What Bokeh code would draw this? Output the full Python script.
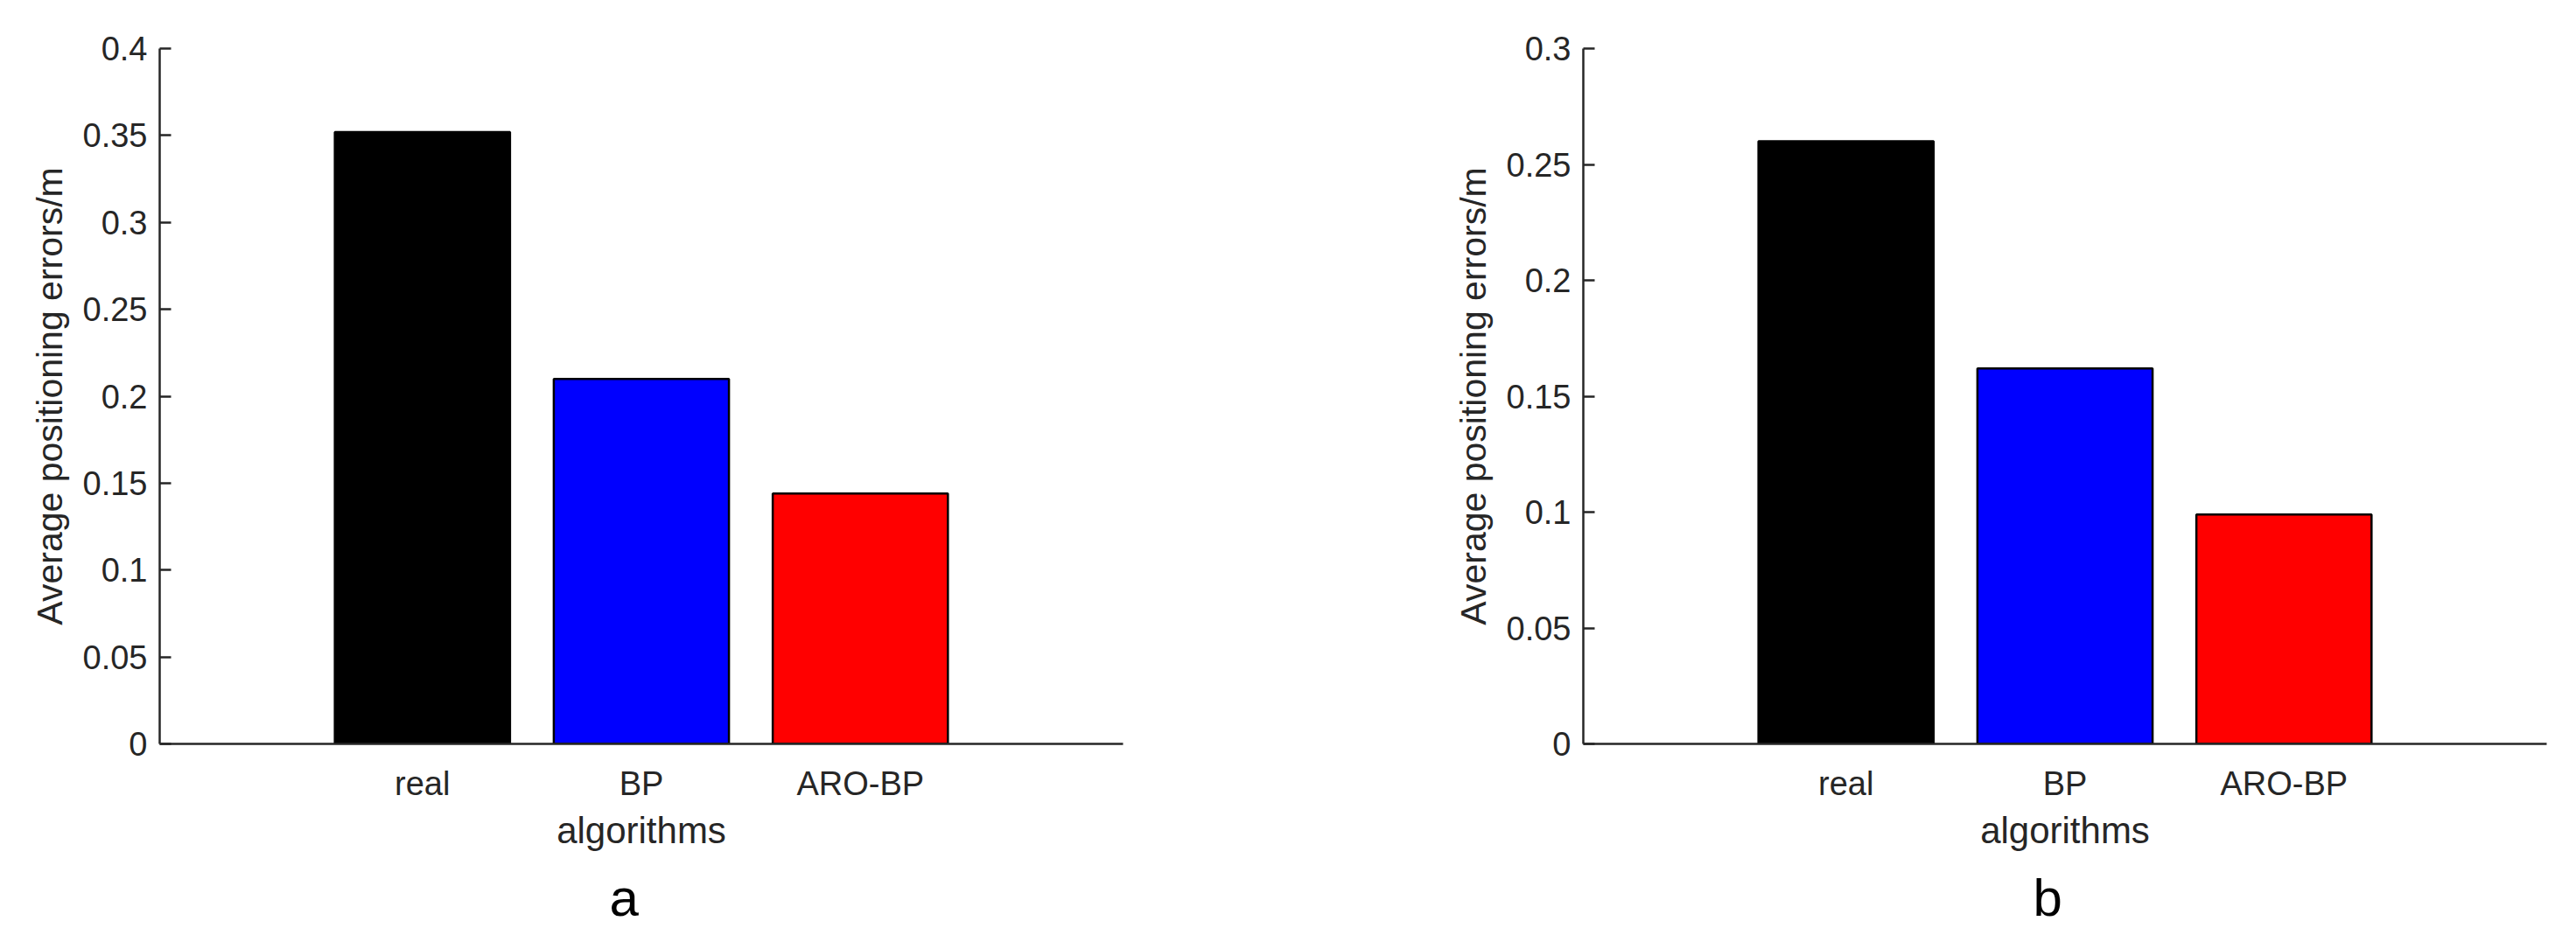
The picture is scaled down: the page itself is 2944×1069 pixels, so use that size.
from bokeh.plotting import figure
from bokeh.layouts import row
from bokeh.models import Range1d, FixedTicker, CustomJSTickFormatter, Title
from bokeh.embed import file_html
from bokeh.resources import INLINE

# ---- data ----
categories = ["real", "BP", "ARO-BP"]
errors_a = [0.352, 0.210, 0.144]
errors_b = [0.260, 0.162, 0.099]
bar_colors = ["#000000", "#0000ff", "#ff0000"]
yticks_a = [0, 0.05, 0.1, 0.15, 0.2, 0.25, 0.3, 0.35, 0.4]
yticks_b = [0, 0.05, 0.1, 0.15, 0.2, 0.25, 0.3]
panel_labels = ["a", "b"]

FONT = "Liberation Sans"
TXT = "#262626"


def make_panel(values, yticks, label, bl, br):
    xs = list(range(1, len(categories) + 1))
    p = figure(frame_width=1101, frame_height=795, output_backend="svg", toolbar_location=None,
               x_range=Range1d(-0.2, 4.2), y_range=Range1d(yticks[0], yticks[-1]),
               min_border_left=bl, min_border_right=br, min_border_top=55,
               min_border_bottom=0)
    p.vbar(x=xs, top=values, width=0.8, bottom=0, fill_color=bar_colors,
           line_color="black", line_width=2.5)
    p.grid.visible = False
    p.outline_line_color = None
    p.background_fill_color = "white"
    p.border_fill_color = "white"

    # x axis
    xa = p.xaxis[0]
    xa.ticker = FixedTicker(ticks=xs)
    xa.major_label_overrides = {x: c for x, c in zip(xs, categories)}
    xa.major_tick_in = 0
    xa.major_tick_out = 0
    xa.minor_tick_in = 0
    xa.minor_tick_out = 0
    xa.axis_line_color = TXT
    xa.axis_line_width = 2.5
    xa.major_label_text_font = FONT
    xa.major_label_text_font_size = "38px"
    xa.major_label_text_color = TXT
    xa.major_label_standoff = 24
    xa.axis_label = "algorithms"
    xa.axis_label_text_font = FONT
    xa.axis_label_text_font_size = "42px"
    xa.axis_label_text_font_style = "normal"
    xa.axis_label_text_color = TXT
    xa.axis_label_standoff = 6

    # y axis
    ya = p.yaxis[0]
    ya.ticker = FixedTicker(ticks=yticks)
    ya.formatter = CustomJSTickFormatter(code="return parseFloat(tick.toFixed(3)).toString();")
    ya.major_tick_in = 13
    ya.major_tick_out = 0
    ya.minor_tick_in = 0
    ya.minor_tick_out = 0
    ya.major_tick_line_color = TXT
    ya.major_tick_line_width = 2.5
    ya.axis_line_color = TXT
    ya.axis_line_width = 2.5
    ya.major_label_text_font = FONT
    ya.major_label_text_font_size = "38px"
    ya.major_label_text_color = TXT
    ya.major_label_standoff = 14
    ya.axis_label = "Average positioning errors/m"
    ya.axis_label_text_font = FONT
    ya.axis_label_text_font_size = "41px"
    ya.axis_label_text_font_style = "normal"
    ya.axis_label_text_color = TXT
    ya.axis_label_standoff = 12

    t = Title(text=label, align="left", offset=514, standoff=30, text_font=FONT,
              text_font_size="60px", text_font_style="normal", text_color="black")
    p.add_layout(t, "below")
    return p


p1 = make_panel(errors_a, yticks_a, panel_labels[0], 182, 189)
p2 = make_panel(errors_b, yticks_b, panel_labels[1], 337, 34)

layout = row(p1, p2)
open("out.html", "w").write(file_html(layout, INLINE))
